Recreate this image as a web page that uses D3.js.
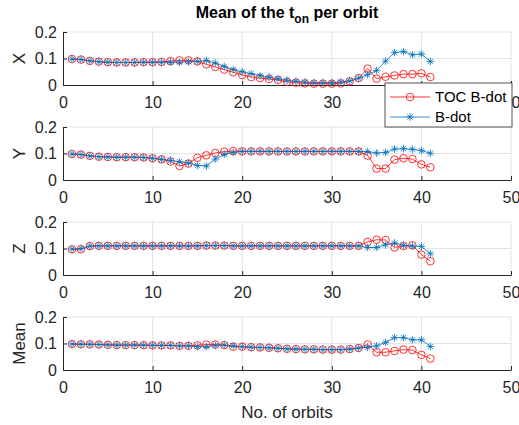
<!DOCTYPE html>
<html>
<head>
<meta charset="utf-8">
<script src="https://cdn.jsdelivr.net/npm/d3@7"></script>
<style>
  html, body { margin: 0; padding: 0; background: #fff; }
  svg { display: block; font-family: "Liberation Sans", Arial, Helvetica, sans-serif; }
</style>
</head>
<body>
<svg id="chart" width="519" height="425"></svg>
<script>
// Orbit numbers
const orbits = [1,2,3,4,5,6,7,8,9,10,11,12,13,14,15,16,17,18,19,20,21,22,23,24,25,26,27,28,29,30,31,32,33,34,35,36,37,38,39,40,41];

// Mean t_on per orbit, X axis
const tocX  = [0.098,0.096,0.091,0.088,0.086,0.085,0.085,0.085,0.086,0.086,0.087,0.090,0.093,0.093,0.089,0.078,0.068,0.058,0.048,0.038,0.030,0.026,0.023,0.019,0.012,0.009,0.006,0.005,0.005,0.005,0.006,0.014,0.026,0.062,0.024,0.031,0.036,0.041,0.041,0.044,0.030];
const bdotX = [0.098,0.096,0.091,0.088,0.086,0.085,0.085,0.085,0.086,0.086,0.086,0.086,0.086,0.088,0.089,0.093,0.083,0.070,0.058,0.050,0.043,0.035,0.029,0.023,0.018,0.014,0.011,0.009,0.009,0.009,0.011,0.016,0.026,0.039,0.055,0.090,0.122,0.126,0.114,0.117,0.089];

// Y axis
const tocY  = [0.098,0.096,0.091,0.088,0.087,0.086,0.086,0.086,0.085,0.082,0.078,0.070,0.053,0.062,0.084,0.093,0.102,0.107,0.109,0.108,0.108,0.108,0.108,0.108,0.108,0.108,0.108,0.108,0.108,0.108,0.108,0.108,0.108,0.092,0.043,0.043,0.077,0.082,0.079,0.059,0.048];
const bdotY = [0.098,0.096,0.091,0.088,0.087,0.086,0.086,0.086,0.085,0.082,0.078,0.074,0.069,0.064,0.055,0.053,0.079,0.097,0.104,0.108,0.108,0.108,0.108,0.108,0.108,0.108,0.108,0.108,0.108,0.108,0.108,0.108,0.108,0.107,0.102,0.104,0.117,0.118,0.116,0.111,0.101];

// Z axis
const tocZ  = [0.097,0.097,0.109,0.110,0.110,0.110,0.110,0.110,0.110,0.110,0.110,0.110,0.110,0.110,0.110,0.111,0.111,0.111,0.110,0.110,0.110,0.110,0.110,0.110,0.110,0.110,0.110,0.110,0.110,0.110,0.110,0.110,0.110,0.125,0.133,0.132,0.104,0.109,0.112,0.077,0.052];
const bdotZ = [0.098,0.100,0.109,0.110,0.110,0.110,0.110,0.110,0.110,0.110,0.110,0.110,0.110,0.110,0.110,0.111,0.111,0.111,0.110,0.110,0.110,0.110,0.110,0.110,0.110,0.110,0.110,0.110,0.110,0.110,0.110,0.110,0.110,0.104,0.104,0.114,0.121,0.112,0.109,0.108,0.080];

// Mean over the three axes
const tocMean  = [0.098,0.097,0.097,0.096,0.095,0.094,0.094,0.094,0.094,0.093,0.093,0.093,0.091,0.091,0.093,0.096,0.096,0.094,0.088,0.088,0.086,0.085,0.084,0.082,0.080,0.079,0.078,0.078,0.077,0.077,0.077,0.079,0.083,0.096,0.067,0.067,0.072,0.077,0.075,0.057,0.043];
const bdotMean = [0.098,0.097,0.097,0.096,0.095,0.094,0.094,0.094,0.094,0.093,0.093,0.093,0.091,0.091,0.088,0.088,0.093,0.094,0.091,0.088,0.086,0.085,0.084,0.082,0.080,0.079,0.078,0.078,0.077,0.077,0.077,0.079,0.083,0.086,0.091,0.104,0.122,0.122,0.114,0.114,0.089];

const xTicks = [0,10,20,30,40,50];
const yTicks = [0,0.1,0.2];
const yTickLabels = ["0","0.1","0.2"];

const panels = [
  { label: "X",    toc: tocX,    bdot: bdotX },
  { label: "Y",    toc: tocY,    bdot: bdotY },
  { label: "Z",    toc: tocZ,    bdot: bdotZ },
  { label: "Mean", toc: tocMean, bdot: bdotMean }
];

const seriesNames = ["TOC B-dot", "B-dot"];
const red = "#ff0000";
const blue = "#0072BD";
const axisColor = "#262626";
const gridColor = "#e3e3e3";

const svg = d3.select("#chart");
svg.append("rect").attr("width", 519).attr("height", 425).attr("fill", "#fff");

const left = 63, right = 511;
const panelTop = [32, 127, 222, 317];
const panelH = 53;

const x = d3.scaleLinear().domain([0, 50]).range([left, right]);

function asteriskPath(s) {
  const d = s * 0.7071;
  return `M${-s},0L${s},0M0,${-s}L0,${s}M${-d},${-d}L${d},${d}M${-d},${d}L${d},${-d}`;
}

panels.forEach((p, i) => {
  const top = panelTop[i];
  const y = d3.scaleLinear().domain([0, 0.2]).range([top + panelH, top]);
  const g = svg.append("g");

  // grid
  g.selectAll("line.gx").data(xTicks.slice(1)).join("line")
    .attr("x1", d => x(d)).attr("x2", d => x(d))
    .attr("y1", y(0)).attr("y2", y(0.2))
    .attr("stroke", gridColor).attr("stroke-width", 1);
  g.selectAll("line.gy").data(yTicks.slice(1)).join("line")
    .attr("x1", x(0)).attr("x2", x(50))
    .attr("y1", d => y(d)).attr("y2", d => y(d))
    .attr("stroke", gridColor).attr("stroke-width", 1);

  // axes
  const xAxis = d3.axisBottom(x).tickValues(xTicks).tickSizeInner(-4).tickSizeOuter(0).tickPadding(12)
    .tickFormat(d3.format("d"));
  const ga = g.append("g").attr("transform", `translate(0,${y(0)})`).call(xAxis);
  ga.select(".domain").attr("stroke", axisColor);
  ga.selectAll(".tick line").attr("stroke", axisColor);
  ga.selectAll("text").attr("fill", axisColor).style("font-size", "16px").style("font-family", "Liberation Sans, Arial, sans-serif");

  const yAxis = d3.axisLeft(y).tickValues(yTicks).tickSizeInner(-4).tickSizeOuter(0).tickPadding(6)
    .tickFormat((d, k) => yTickLabels[k]);
  const gy = g.append("g").attr("transform", `translate(${x(0)},0)`).call(yAxis);
  gy.select(".domain").attr("stroke", axisColor);
  gy.selectAll(".tick line").attr("stroke", axisColor);
  gy.selectAll("text").attr("fill", axisColor).style("font-size", "16px").style("font-family", "Liberation Sans, Arial, sans-serif");

  // y label
  g.append("text")
    .attr("transform", `translate(25,${top + panelH / 2}) rotate(-90)`)
    .attr("text-anchor", "middle")
    .attr("fill", axisColor)
    .style("font-size", "17px")
    .text(p.label);

  const line = d3.line().x((d, k) => x(orbits[k])).y(d => y(d));

  // TOC B-dot: red line with open circles
  g.append("path").datum(p.toc).attr("d", line)
    .attr("fill", "none").attr("stroke", red).attr("stroke-width", 0.8);
  g.selectAll("circle.toc").data(p.toc).join("circle")
    .attr("cx", (d, k) => x(orbits[k])).attr("cy", d => y(d)).attr("r", 3.8)
    .attr("fill", "none").attr("stroke", red).attr("stroke-width", 0.8);

  // B-dot: blue line with asterisks
  g.append("path").datum(p.bdot).attr("d", line)
    .attr("fill", "none").attr("stroke", blue).attr("stroke-width", 0.8);
  g.selectAll("path.bdot").data(p.bdot).join("path")
    .attr("transform", (d, k) => `translate(${x(orbits[k])},${y(d)})`)
    .attr("d", asteriskPath(3.8))
    .attr("fill", "none").attr("stroke", blue).attr("stroke-width", 0.8);
});

// title
const title = svg.append("text")
  .attr("x", (left + right) / 2).attr("y", 18)
  .attr("text-anchor", "middle")
  .attr("fill", "#000")
  .style("font-size", "16px").style("font-weight", "bold");
title.append("tspan").text("Mean of the t");
title.append("tspan").attr("dy", 5).style("font-size", "12px").text("on");
title.append("tspan").attr("dy", -5).text(" per orbit");

// x label
svg.append("text")
  .attr("x", (left + right) / 2).attr("y", 418)
  .attr("text-anchor", "middle")
  .attr("fill", axisColor)
  .style("font-size", "17px")
  .text("No. of orbits");

// legend
const lg = svg.append("g");
lg.append("rect").attr("x", 385).attr("y", 83).attr("width", 127).attr("height", 44)
  .attr("fill", "#fff").attr("stroke", axisColor).attr("stroke-width", 0.8);
const legendRows = [
  { name: seriesNames[0], color: red, y: 97, marker: "circle" },
  { name: seriesNames[1], color: blue, y: 117, marker: "star" }
];
legendRows.forEach(r => {
  lg.append("line").attr("x1", 390).attr("x2", 430).attr("y1", r.y).attr("y2", r.y)
    .attr("stroke", r.color).attr("stroke-width", 0.8);
  if (r.marker === "circle") {
    lg.append("circle").attr("cx", 410).attr("cy", r.y).attr("r", 3.8)
      .attr("fill", "none").attr("stroke", r.color).attr("stroke-width", 0.8);
  } else {
    lg.append("path").attr("transform", `translate(410,${r.y})`).attr("d", asteriskPath(3.8))
      .attr("fill", "none").attr("stroke", r.color).attr("stroke-width", 0.8);
  }
  lg.append("text").attr("x", 435).attr("y", r.y).attr("dy", "0.35em")
    .attr("fill", "#000").style("font-size", "15px").text(r.name);
});
</script>
</body>
</html>
